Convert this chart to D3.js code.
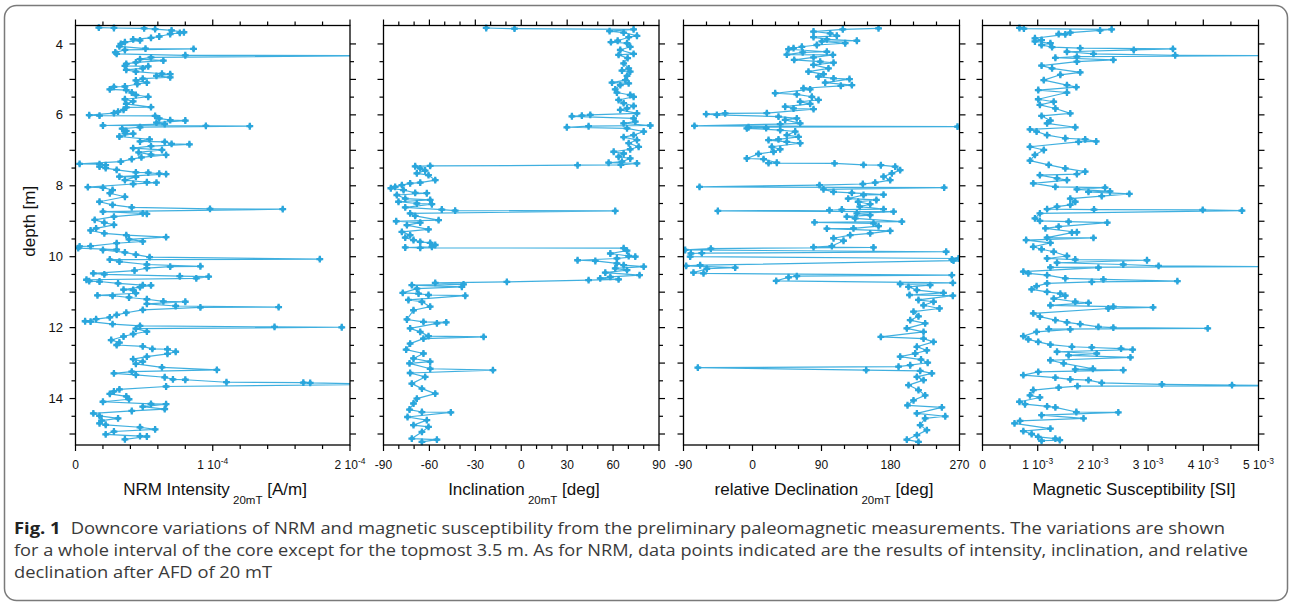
<!DOCTYPE html>
<html>
<head>
<meta charset="utf-8">
<script src="https://cdn.jsdelivr.net/npm/d3@7"></script>
<style>
  html, body { margin: 0; padding: 0; background: #fff; }
  svg { display: block; }
</style>
</head>
<body>
<svg id="fig" width="1290" height="604"></svg>
<script>
// ---- data: [depth (m), value] ----
const depthDomain = [3.48, 15.31];
const depthTickLabels = [4, 6, 8, 10, 12, 14];

// NRM intensity after 20 mT AFD, in units of 1e-5 A/m
const nrmIntensity = [
[3.54,1.7],[3.55,2.8],[3.56,5.0],[3.58,5.8],[3.62,7.0],[3.67,7.9],[3.69,7.6],[3.72,6.9],[3.79,6.1],[3.83,5.5],[3.87,4.2],[3.90,4.7],[3.95,3.6],[4.00,3.3],[4.07,3.2],[4.13,5.1],[4.14,8.6],[4.17,3.6],[4.24,2.9],[4.28,3.0],[4.32,8.0],[4.33,23],[4.38,5.5],[4.43,4.7],[4.47,6.4],[4.52,4.4],[4.56,3.7],[4.62,3.6],[4.63,5.3],[4.69,4.9],[4.73,3.7],[4.78,4.4],[4.84,6.3],[4.85,6.9],[4.90,5.9],[4.94,6.9],[4.98,4.9],[5.03,4.4],[5.09,5.2],[5.13,4.5],[5.20,3.6],[5.21,2.8],[5.28,2.5],[5.30,3.7],[5.37,4.1],[5.44,4.4],[5.49,5.3],[5.56,3.6],[5.62,4.2],[5.69,3.7],[5.78,5.5],[5.79,3.7],[5.86,3.5],[5.91,3.1],[5.95,2.8],[6.01,1.0],[6.02,1.75],[6.03,5.8],[6.10,6.1],[6.15,6.9],[6.16,8.0],[6.22,5.9],[6.26,6.5],[6.30,2.0],[6.31,9.5],[6.32,12.7],[6.35,4.7],[6.39,3.4],[6.45,3.7],[6.52,3.6],[6.53,4.2],[6.61,3.2],[6.69,5.4],[6.75,4.7],[6.76,6.5],[6.82,7.0],[6.83,8.3],[6.88,5.5],[6.94,4.2],[6.99,6.3],[7.06,4.6],[7.12,5.5],[7.13,6.6],[7.20,4.8],[7.25,4.1],[7.32,3.3],[7.38,0.3],[7.39,1.75],[7.42,2.2],[7.46,1.75],[7.50,2.2],[7.55,3.0],[7.62,4.4],[7.63,5.3],[7.66,6.1],[7.67,6.6],[7.74,3.2],[7.75,4.4],[7.84,3.6],[7.90,5.2],[7.91,5.9],[7.95,4.2],[8.04,0.9],[8.05,2.0],[8.12,2.7],[8.21,2.5],[8.31,3.6],
[8.45,1.75],[8.54,2.7],[8.61,4.1],[8.65,9.8],[8.66,15.1],[8.73,2.0],[8.78,4.9],[8.79,5.2],[8.87,2.8],[8.96,1.4],[9.04,2.1],[9.10,2.8],[9.20,1.5],[9.26,1.1],[9.34,2.1],[9.39,3.7],[9.45,6.6],[9.51,3.9],[9.57,4.9],[9.62,3.0],[9.70,1.1],[9.71,0.3],[9.76,0.2],[9.80,3.0],[9.81,2.0],[9.88,3.6],[9.94,4.4],[10.01,5.4],[10.07,17.8],[10.08,2.5],[10.14,3.2],[10.22,5.2],[10.27,9.1],[10.28,6.9],[10.32,5.2],[10.39,4.3],[10.47,1.3],[10.50,2.1],[10.55,7.6],[10.56,9.7],[10.61,8.8],[10.65,0.8],[10.69,1.0],[10.70,1.75],[10.75,3.1],[10.80,4.9],[10.81,5.5],[10.86,4.7],[10.93,3.5],[10.94,4.2],[11.03,4.4],[11.09,1.6],[11.10,2.7],[11.15,3.9],[11.20,5.2],[11.26,6.4],[11.27,8.0],[11.33,5.2],[11.39,7.3],[11.42,14.8],[11.43,9.1],[11.50,4.9],[11.58,3.7],[11.64,3.0],[11.71,2.5],[11.76,1.5],[11.82,0.7],[11.83,1.1],[11.90,2.7],[11.95,4.7],[11.98,14.5],[11.99,19.4],[12.03,4.4],[12.11,5.2],[12.18,4.2],[12.25,3.5],[12.35,2.6],[12.42,3.2],[12.49,3.0],[12.53,4.9],[12.60,5.6],[12.61,6.7],[12.68,7.3],[12.74,6.7],[12.82,5.2],[12.89,4.2],[12.96,4.9],[13.02,4.4],[13.12,6.3],[13.19,10.3],[13.24,4.1],[13.29,2.8],[13.33,4.4],[13.40,6.5],[13.46,7.1],[13.47,8.0],[13.54,11.0],[13.55,16.6],[13.56,17.1],[13.60,23],[13.66,6.6],[13.74,3.2],[13.80,2.8],[13.87,2.5],[13.94,3.7],[14.02,3.9],[14.09,2.0],[14.15,5.5],[14.16,6.6],[14.23,4.9],[14.30,6.5],[14.35,4.1],[14.42,1.3],[14.49,1.75],[14.56,3.1],[14.62,1.9],[14.70,1.75],[14.74,2.2],[14.81,4.7],[14.87,5.8],[14.93,2.8],[15.01,2.2],[15.06,4.7],[15.07,5.2],[15.15,3.6]
];

// inclination after 20 mT AFD, degrees
const inclination = [
[3.55,-22.9],[3.57,-4.4],[3.59,73.4],[3.64,57.7],[3.68,66.9],[3.77,75.6],[3.81,70.2],[3.91,63.0],[3.95,58.6],[3.98,69.1],[4.08,71.2],[4.17,64.7],[4.28,73.4],[4.31,63.6],[4.40,69.5],[4.55,66.9],[4.69,70.2],[4.75,65.8],[4.78,71.2],[4.90,69.1],[5.02,68.0],[5.09,59.3],[5.11,70.2],[5.16,64.7],[5.28,61.4],[5.37,62.5],[5.44,71.2],[5.49,73.4],[5.58,63.6],[5.67,66.9],[5.75,73.4],[5.82,69.1],[5.86,64.7],[5.96,75.6],[6.00,45.1],[6.02,39.6],[6.04,33.1],[6.10,73.4],[6.19,74.5],[6.24,66.9],[6.30,84.3],[6.32,44.0],[6.35,29.8],[6.38,69.1],[6.47,80.0],[6.57,73.4],[6.63,66.9],[6.71,75.6],[6.80,70.2],[6.90,76.7],[6.97,71.2],[7.04,60.4],[7.09,66.9],[7.18,63.6],[7.23,71.2],[7.32,65.8],[7.35,57.1],[7.37,75.6],[7.41,65.1],[7.42,36.8],[7.44,-59.5],[7.45,-69.3],[7.51,-66.0],[7.57,-62.8],[7.65,-68.2],[7.70,-60.6],[7.84,-56.2],[7.91,-66.0],[7.93,-72.6],[7.98,-78.0],[8.03,-82.4],[8.07,-85.2],[8.12,-76.9],[8.20,-69.3],[8.21,-61.7],[8.26,-81.3],[8.36,-75.8],[8.40,-59.5],[8.45,-80.2],[8.50,-68.2],[8.52,-58.4],[8.61,-75.8],[8.67,-51.9],[8.70,-43.2],[8.71,61.4],[8.78,-72.6],[8.85,-69.3],[8.97,-54.0],[9.00,-81.7],[9.04,-66.0],[9.11,-74.7],[9.23,-60.6],[9.30,-78.0],[9.39,-72.6],[9.46,-75.8],[9.53,-70.4],[9.58,-66.0],[9.61,-59.5],[9.67,-56.2],[9.72,-58.4],[9.74,-75.8],[9.75,-66.0],[9.76,66.9],[9.83,69.1],[9.91,58.2],[9.98,70.2],[10.00,74.5],[10.05,62.5],[10.10,36.8],[10.12,48.4],[10.19,62.5],[10.24,66.9],[10.28,80.0],[10.33,61.4],[10.38,69.1],[10.45,54.9],[10.52,77.3],[10.57,58.2],[10.61,51.6],[10.64,63.6],[10.66,44.0],[10.71,-9.4],[10.74,-56.2],[10.78,-37.7],[10.80,-71.5],[10.85,-38.8],[10.90,-68.2],[11.02,-77.4],[11.04,-67.1],[11.08,-60.6],[11.10,-36.6],[11.22,-73.7],[11.27,-64.9],[11.41,-59.5],[11.51,-70.4],[11.77,-74.7],[11.84,-63.9],[11.85,-49.0],[11.88,-55.1],[12.02,-72.6],[12.12,-66.0],[12.24,-60.6],[12.26,-24.6],[12.31,-63.9],[12.45,-72.6],[12.62,-75.2],[12.73,-63.9],[12.87,-70.4],[12.96,-59.5],[13.01,-73.0],[13.16,-59.5],[13.20,-18.5],[13.28,-72.6],[13.39,-62.8],[13.58,-71.5],[13.72,-64.9],[13.86,-56.2],[14.00,-68.2],[14.14,-70.4],[14.31,-73.0],[14.38,-64.9],[14.39,-46.0],[14.52,-74.3],[14.61,-61.7],[14.75,-70.4],[14.80,-60.6],[14.94,-64.9],[15.13,-71.5],[15.16,-55.1],[15.22,-64.9]
];

// relative declination after 20 mT AFD, degrees
const declination = [
[3.56,164.4],[3.59,117.8],[3.65,79.6],[3.70,101.3],[3.77,110.0],[3.81,79.6],[3.87,97.0],[3.91,136.1],[3.93,90.4],[3.98,120.9],[4.03,83.9],[4.08,64.4],[4.12,53.5],[4.15,47.0],[4.22,97.0],[4.24,65.5],[4.30,44.8],[4.31,104.8],[4.38,79.6],[4.45,54.4],[4.50,88.3],[4.53,105.7],[4.59,79.6],[4.69,99.1],[4.78,73.0],[4.85,92.6],[4.92,86.1],[4.97,105.7],[4.99,126.5],[5.09,94.8],[5.16,129.6],[5.18,115.2],[5.25,66.5],[5.28,75.2],[5.39,29.6],[5.42,57.8],[5.49,77.4],[5.58,86.1],[5.63,62.2],[5.69,75.2],[5.77,42.6],[5.82,53.5],[5.84,79.6],[5.95,18.7],[5.96,-35.7],[5.98,-60.4],[6.00,-46.5],[6.05,33.9],[6.10,57.8],[6.14,42.6],[6.24,62.2],[6.26,36.1],[6.31,-75.7],[6.33,267.4],[6.35,-5.2],[6.37,17.8],[6.38,-7.4],[6.43,36.1],[6.47,55.7],[6.57,44.8],[6.62,60.0],[6.69,33.9],[6.71,20.9],[6.76,44.8],[6.80,62.2],[6.90,25.2],[6.97,36.1],[7.04,27.4],[7.10,7.8],[7.23,-7.4],[7.25,14.4],[7.35,31.7],[7.36,20.9],[7.37,107.0],[7.41,144.8],[7.42,167.4],[7.46,186.1],[7.56,192.6],[7.65,181.8],[7.74,170.9],[7.84,179.6],[7.91,160.0],[7.95,143.9],[7.98,87.4],[8.03,-69.1],[8.05,250.0],[8.10,92.6],[8.17,105.7],[8.20,129.6],[8.25,170.9],[8.26,144.8],[8.36,124.8],[8.40,161.6],[8.45,137.8],[8.52,153.5],[8.59,139.9],[8.66,170.9],[8.67,116.5],[8.69,100.4],[8.71,-45.2],[8.73,184.0],[8.78,136.1],[8.83,153.5],[8.87,123.0],[8.92,133.9],[9.01,194.8],[9.03,80.9],[9.06,157.8],[9.14,164.4],[9.20,131.7],[9.21,97.0],[9.27,179.6],[9.34,153.5],[9.39,127.4],[9.48,105.7],[9.55,118.7],[9.70,103.5],[9.73,79.6],[9.74,157.8],[9.77,-54.3],[9.81,-87.8],[9.86,252.6],[9.90,-66.1],[9.91,-80.4],[10.00,-81.3],[10.05,268.7],[10.08,260.0],[10.11,262.2],[10.24,-68.3],[10.26,-86.5],[10.31,-22.6],[10.34,-59.6],[10.45,-77.0],[10.47,-63.9],[10.52,260.0],[10.55,57.8],[10.58,47.0],[10.68,30.9],[10.74,261.3],[10.77,192.6],[10.80,231.7],[10.85,203.5],[10.94,214.4],[11.02,249.1],[11.08,204.8],[11.10,261.3],[11.22,216.5],[11.27,236.1],[11.37,223.1],[11.46,243.9],[11.55,210.0],[11.68,216.5],[11.79,205.7],[11.88,225.2],[12.02,201.3],[12.12,223.1],[12.26,167.4],[12.31,223.1],[12.40,236.1],[12.54,214.4],[12.64,227.4],[12.73,212.2],[12.82,192.6],[12.90,219.8],[12.99,228.5],[13.06,205.7],[13.10,190.5],[13.13,-71.3],[13.20,148.3],[13.22,218.7],[13.29,233.9],[13.39,214.4],[13.48,223.1],[13.62,203.5],[13.76,216.5],[13.91,225.2],[14.05,210.0],[14.19,202.2],[14.25,247.0],[14.42,214.4],[14.50,251.4],[14.56,225.2],[14.75,218.7],[14.89,227.4],[15.03,214.4],[15.16,201.3],[15.22,216.5]
];

// magnetic susceptibility, in units of 1e-3 SI
const susceptibility = [
[3.55,0.67],[3.57,0.75],[3.59,2.34],[3.62,2.13],[3.68,1.59],[3.72,1.38],[3.73,1.50],[3.84,0.95],[3.89,1.07],[3.93,0.95],[3.98,1.23],[4.03,1.07],[4.09,1.26],[4.12,1.77],[4.14,3.45],[4.17,2.74],[4.22,1.53],[4.28,2.01],[4.32,3.49],[4.33,5.4],[4.36,1.71],[4.39,1.32],[4.45,2.37],[4.50,1.71],[4.61,1.07],[4.69,1.26],[4.80,1.77],[4.87,1.41],[5.02,1.11],[5.16,1.53],[5.22,1.70],[5.30,1.01],[5.37,1.53],[5.56,1.01],[5.63,1.29],[5.72,1.04],[5.82,1.32],[5.96,1.59],[6.03,1.07],[6.16,1.23],[6.24,1.17],[6.35,1.68],[6.41,0.86],[6.47,0.98],[6.57,1.17],[6.66,1.50],[6.69,1.86],[6.75,2.06],[6.76,1.74],[6.90,0.86],[6.99,1.11],[7.13,0.95],[7.29,0.86],[7.41,1.20],[7.51,1.50],[7.60,1.86],[7.67,1.71],[7.70,1.04],[7.79,1.35],[7.84,1.53],[7.93,0.92],[8.03,1.32],[8.05,2.22],[8.10,1.71],[8.16,2.31],[8.17,1.92],[8.23,2.66],[8.29,2.16],[8.36,1.59],[8.45,1.68],[8.54,1.59],[8.59,1.35],[8.66,1.17],[8.67,2.02],[8.68,3.99],[8.70,4.70],[8.78,1.04],[8.92,0.95],[8.99,1.04],[9.01,1.56],[9.04,2.26],[9.15,1.38],[9.20,1.14],[9.31,1.71],[9.32,1.62],[9.46,1.17],[9.47,2.01],[9.53,0.79],[9.61,1.23],[9.72,0.92],[9.79,1.07],[9.86,1.29],[9.98,1.53],[10.05,1.17],[10.08,1.68],[10.10,2.98],[10.17,1.35],[10.22,2.55],[10.26,3.19],[10.28,5.3],[10.30,1.23],[10.31,2.10],[10.42,0.74],[10.47,0.83],[10.52,1.17],[10.61,1.50],[10.64,2.19],[10.69,3.53],[10.71,1.98],[10.75,1.17],[10.83,0.98],[10.92,0.89],[10.99,1.17],[11.04,1.41],[11.10,1.50],[11.18,1.29],[11.27,1.68],[11.30,1.92],[11.37,1.23],[11.41,2.37],[11.43,3.09],[11.46,2.28],[11.60,0.92],[11.69,1.04],[11.79,1.32],[11.85,1.53],[11.90,1.77],[11.98,2.10],[12.00,2.37],[12.02,4.08],[12.04,1.20],[12.05,1.59],[12.12,0.98],[12.24,0.74],[12.33,0.83],[12.40,1.01],[12.48,1.23],[12.54,1.62],[12.56,1.98],[12.59,2.51],[12.62,2.72],[12.68,1.35],[12.73,2.07],[12.78,1.56],[12.84,2.68],[12.92,1.23],[13.01,1.47],[13.16,2.00],[13.18,1.68],[13.20,2.55],[13.25,1.01],[13.34,0.74],[13.41,1.32],[13.46,1.59],[13.48,1.92],[13.56,2.16],[13.60,3.25],[13.62,4.52],[13.64,5.4],[13.65,1.72],[13.69,1.38],[13.76,0.92],[13.91,0.86],[13.97,1.04],[14.09,0.67],[14.16,0.77],[14.22,1.17],[14.25,1.32],[14.38,1.70],[14.39,2.46],[14.47,1.07],[14.56,1.83],[14.63,0.68],[14.70,0.58],[14.85,1.23],[14.92,0.74],[15.00,0.89],[15.08,1.01],[15.13,1.32],[15.17,1.40],[15.19,1.07]
];

// ---- tick labels (mantissa, exponent) ----
const nrmTickLabels = [[0, "0", ""], [10, "1 10", "-4"], [20, "2 10", "-4"]];
const incTickLabels = [[-90, "-90"], [-60, "-60"], [-30, "-30"], [0, "0"], [30, "30"], [60, "60"], [90, "90"]];
const decTickLabels = [[-90, "-90"], [0, "0"], [90, "90"], [180, "180"], [270, "270"]];
const susTickLabels = [[0, "0", ""], [1, "1 10", "-3"], [2, "2 10", "-3"], [3, "3 10", "-3"], [4, "4 10", "-3"], [5, "5 10", "-3"]];

// ---- layout & style ----
const plotTop = 25.5, plotBottom = 445;
const seriesColor = "#2aa6dc";
const axisFont = "'Liberation Sans', Arial, sans-serif";

const svg = d3.select("#fig");

// rounded frame around the whole figure
svg.append("rect")
  .attr("x", 4.5).attr("y", 5.5).attr("width", 1283).attr("height", 595)
  .attr("rx", 12).attr("ry", 12)
  .attr("fill", "none").attr("stroke", "#7a7a7a").attr("stroke-width", 1.5);

const y = d3.scaleLinear().domain(depthDomain).range([plotTop, plotBottom]);

const panels = [
  { id: "nrm", data: nrmIntensity, domain: [0, 20], left: 75.5, right: 350, step: 2,
    labels: nrmTickLabels, title: ["NRM Intensity", "20mT", "[A/m]"], titleX: 215 },
  { id: "inc", data: inclination, domain: [-90, 90], left: 383.5, right: 659, step: 10,
    labels: incTickLabels, title: ["Inclination", "20mT", "[deg]"], titleX: 524 },
  { id: "dec", data: declination, domain: [-90, 270], left: 683.5, right: 959.5, step: 30,
    labels: decTickLabels, title: ["relative Declination", "20mT", "[deg]"], titleX: 824 },
  { id: "sus", data: susceptibility, domain: [0, 5], left: 982.5, right: 1258.5, step: 0.5,
    labels: susTickLabels, title: ["Magnetic Susceptibility [SI]"], titleX: 1134 }
];

const depthMinor = d3.range(4, 15.01, 0.5);
const markerSquare = d3.symbol(d3.symbolSquare, 17)();
const markerCross = d3.symbol(d3.symbolCross, 26)();

panels.forEach((p, i) => {
  const x = d3.scaleLinear().domain(p.domain).range([p.left, p.right]);
  const g = svg.append("g").attr("class", "panel-" + p.id);

  // clip region for the plotted series
  const clipId = "clip-" + p.id;
  svg.append("clipPath").attr("id", clipId)
    .append("rect")
    .attr("x", p.left).attr("y", plotTop - 4)
    .attr("width", p.right - p.left).attr("height", plotBottom - plotTop + 8);

  // tick marks on all four sides
  const xMinor = d3.range(p.domain[0], p.domain[1] + p.step / 2, p.step);
  const xMajor = p.labels.map(d => d[0]);
  const isMajorX = v => xMajor.some(m => Math.abs(m - v) < 1e-9);
  const isMajorY = v => Math.abs(v - Math.round(v)) < 1e-9;

  const tickG = g.append("g").attr("stroke", "#000").attr("stroke-width", 1.2);
  xMinor.forEach(v => {
    const len = isMajorX(v) ? 6 : 4;
    tickG.append("line").attr("x1", x(v)).attr("x2", x(v)).attr("y1", plotTop).attr("y2", plotTop - len);
    tickG.append("line").attr("x1", x(v)).attr("x2", x(v)).attr("y1", plotBottom).attr("y2", plotBottom + len);
  });
  depthMinor.forEach(v => {
    const len = isMajorY(v) ? 6 : 4;
    tickG.append("line").attr("x1", p.left).attr("x2", p.left - len).attr("y1", y(v)).attr("y2", y(v));
    tickG.append("line").attr("x1", p.right).attr("x2", p.right + len).attr("y1", y(v)).attr("y2", y(v));
  });

  // series: connecting line + markers
  const series = g.append("g").attr("clip-path", `url(#${clipId})`);
  const line = d3.line().x(d => x(d[1])).y(d => y(d[0]));
  series.append("path")
    .datum(p.data)
    .attr("d", line)
    .attr("fill", "none")
    .attr("stroke", seriesColor)
    .attr("stroke-width", 1.2)
    .attr("stroke-opacity", 0.9)
    .attr("stroke-linejoin", "round");
  const marks = series.selectAll("g.mk").data(p.data).join("g")
    .attr("class", "mk")
    .attr("transform", d => `translate(${x(d[1])},${y(d[0])})`);
  marks.append("path").attr("d", markerSquare).attr("transform", "rotate(45)").attr("fill", seriesColor);
  marks.append("path").attr("d", markerCross).attr("fill", seriesColor);

  // frame
  g.append("rect")
    .attr("x", p.left).attr("y", plotTop)
    .attr("width", p.right - p.left).attr("height", plotBottom - plotTop)
    .attr("fill", "none").attr("stroke", "#000").attr("stroke-width", 1.3);

  // x tick labels
  p.labels.forEach(([v, base, exp]) => {
    const t = g.append("text")
      .attr("x", x(v)).attr("y", 469)
      .attr("text-anchor", "middle")
      .attr("font-family", axisFont).attr("font-size", 12).attr("fill", "#111");
    t.append("tspan").text(base);
    if (exp) t.append("tspan").attr("dy", -5).attr("font-size", 8.5).text(exp);
  });

  // axis title with subscript
  const tt = g.append("text")
    .attr("x", p.titleX).attr("y", 495)
    .attr("text-anchor", "middle")
    .attr("font-family", axisFont).attr("font-size", 17).attr("fill", "#111");
  tt.append("tspan").text(p.title[0]);
  if (p.title.length > 1) {
    tt.append("tspan").attr("dy", 9).attr("font-size", 11.5).text("\u00a0" + p.title[1]);
    tt.append("tspan").attr("dy", -9).text("\u00a0" + p.title[2]);
  }

  // depth labels on the first panel only
  if (i === 0) {
    depthTickLabels.forEach(v => {
      g.append("text")
        .attr("x", 63).attr("y", y(v) + 4.6)
        .attr("text-anchor", "end")
        .attr("font-family", axisFont).attr("font-size", 13).attr("fill", "#111")
        .text(v);
    });
    g.append("text")
      .attr("transform", `translate(35,${(plotTop + plotBottom) / 2 - 14}) rotate(-90)`)
      .attr("text-anchor", "middle")
      .attr("font-family", axisFont).attr("font-size", 17).attr("fill", "#111")
      .text("depth [m]");
  }
});

// ---- caption ----
const captionFont = "'Open Sans', 'Noto Sans', sans-serif";
const captionLines = [
  { bold: "Fig. 1", text: "Downcore variations of NRM and magnetic susceptibility from the preliminary paleomagnetic measurements. The variations are shown", width: 1211 },
  { text: "for a whole interval of the core except for the topmost 3.5 m. As for NRM, data points indicated are the results of intensity, inclination, and relative", width: 1234 },
  { text: "declination after AFD of 20 mT", width: 258 }
];
captionLines.forEach((ln, k) => {
  const t = svg.append("text")
    .attr("x", 14).attr("y", 534 + k * 22)
    .attr("font-family", captionFont).attr("font-size", 16.5).attr("fill", "#3a3a3a");
  if (ln.bold) {
    t.append("tspan").attr("font-weight", "bold").attr("fill", "#222").text(ln.bold);
    t.append("tspan").attr("dx", 9).text(ln.text);
  } else {
    t.text(ln.text);
  }
  if (ln.width) t.attr("textLength", ln.width).attr("lengthAdjust", "spacingAndGlyphs");
});
</script>
</body>
</html>
